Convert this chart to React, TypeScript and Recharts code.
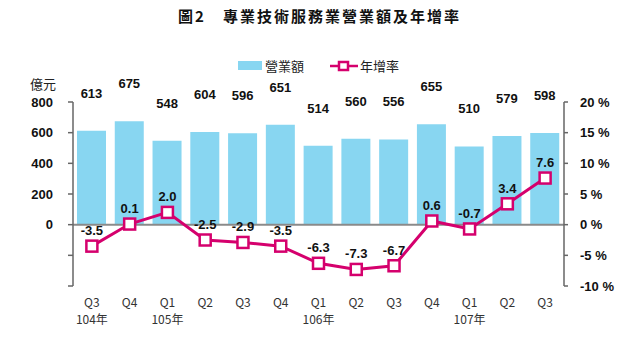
import React from 'react'
import { ComposedChart, Bar, Line, XAxis, YAxis, ReferenceLine, LabelList } from 'recharts'

const quarters = ['Q3', 'Q4', 'Q1', 'Q2', 'Q3', 'Q4', 'Q1', 'Q2', 'Q3', 'Q4', 'Q1', 'Q2', 'Q3']
const years = ['104年', '', '105年', '', '', '', '106年', '', '', '', '107年', '', '']
const revenue = [613, 675, 548, 604, 596, 651, 514, 560, 556, 655, 510, 579, 598]
const growth = [-3.5, 0.1, 2.0, -2.5, -2.9, -3.5, -6.3, -7.3, -6.7, 0.6, -0.7, 3.4, 7.6]

const leftTicks = [-400, -200, 0, 200, 400, 600, 800]
const rightTicks = [-10, -5, 0, 5, 10, 15, 20]

const data = quarters.map((q, i) => ({
  key: i,
  q,
  year: years[i],
  revenue: revenue[i],
  growth: growth[i],
}))

const BAR = '#88d6f1'
const LINE = '#d5006d'
const NUM_FONT = '"Liberation Sans", Arial, sans-serif'
const CJK = '"Noto Sans CJK TC", "Noto Sans", sans-serif'

const XTick = (props: any) => {
  const { x, y, payload } = props
  const d = data[payload.value]
  return (
    <g>
      <text x={x} y={y + 13} textAnchor="middle" fontSize={12} fill="#333" fontFamily={CJK}>
        {d.q}
      </text>
      {d.year && (
        <text x={x} y={y + 30} textAnchor="middle" fontSize={12} fill="#333" fontFamily={CJK}>
          {d.year}
        </text>
      )}
    </g>
  )
}

const BarLabel = (props: any) => {
  const { x, y, width, value } = props
  return (
    <text x={x + width / 2} y={y - 33} textAnchor="middle" fontSize={13} fontWeight="bold" fill="#111" fontFamily={NUM_FONT}>
      {value}
    </text>
  )
}

const LineLabel = (props: any) => {
  const { x, y, value } = props
  return (
    <text x={x} y={y - 11} textAnchor="middle" fontSize={13} fontWeight="bold" fill="#111" fontFamily={NUM_FONT}>
      {Number(value).toFixed(1)}
    </text>
  )
}

const Square = (props: any) => {
  const { cx, cy } = props
  return <rect x={cx - 5.5} y={cy - 5.5} width={11} height={11} fill="#fff" stroke={LINE} strokeWidth={2.5} />
}

export default function App() {
  return (
    <div style={{ position: 'absolute', left: 0, top: 0, width: 639, height: 349, background: '#fff' }}>
      <div style={{ position: 'absolute', top: 5, width: 639, textAlign: 'center', fontFamily: CJK, fontSize: 15, fontWeight: 'bold', letterSpacing: 2, color: '#111' }}>
        圖2　專業技術服務業營業額及年增率
      </div>
      <div style={{ position: 'absolute', top: 56, left: 238, display: 'flex', alignItems: 'center', fontFamily: CJK, fontSize: 13, color: '#222' }}>
        <span style={{ display: 'inline-block', width: 24, height: 9, background: BAR, marginRight: 3 }} />
        <span>營業額</span>
        <svg width={28} height={14} style={{ marginLeft: 26, marginRight: 2 }}>
          <line x1={0} y1={7} x2={28} y2={7} stroke={LINE} strokeWidth={2.5} />
          <rect x={9} y={3} width={9} height={8} fill="#fff" stroke={LINE} strokeWidth={2.5} />
        </svg>
        <span>年增率</span>
      </div>
      <div style={{ position: 'absolute', top: 74, left: 30, fontFamily: CJK, fontSize: 13, color: '#222' }}>億元</div>
      <ComposedChart
        width={639}
        height={349}
        data={data}
        margin={{ top: 102, right: 0, left: 0, bottom: 0 }}
      >
        <XAxis dataKey="key" axisLine={false} tickLine={false} height={63} tick={<XTick />} interval={0} />
        <YAxis
          yAxisId="left"
          width={73}
          domain={[-400, 800]}
          ticks={leftTicks}
          tickFormatter={(v: number) => (v < 0 ? '' : String(v))}
          tick={{ fontSize: 13, fontWeight: 'bold', fill: '#111', fontFamily: NUM_FONT }}
          axisLine={{ stroke: '#666', strokeWidth: 1.5 }}
          tickLine={{ stroke: '#666', strokeWidth: 1.5 }}
          tickSize={5}
          tickMargin={15}
          interval={0}
        />
        <YAxis
          yAxisId="right"
          orientation="right"
          width={75}
          domain={[-10, 20]}
          ticks={rightTicks}
          tickFormatter={(v: number) => `${v} %`}
          tick={{ fontSize: 13, fontWeight: 'bold', fill: '#111', fontFamily: NUM_FONT, textAnchor: 'start' }}
          axisLine={{ stroke: '#666', strokeWidth: 1.5 }}
          tickLine={{ stroke: '#666', strokeWidth: 1.5 }}
          tickSize={4}
          tickMargin={12}
          interval={0}
        />
        <Bar yAxisId="left" dataKey="revenue" fill={BAR} barSize={29} isAnimationActive={false}>
          <LabelList dataKey="revenue" content={<BarLabel />} />
        </Bar>
        <ReferenceLine yAxisId="left" y={0} stroke="#8a8a8a" strokeWidth={2} />
        <Line
          yAxisId="right"
          dataKey="growth"
          stroke={LINE}
          strokeWidth={3}
          dot={<Square />}
          isAnimationActive={false}
        >
          <LabelList dataKey="growth" content={<LineLabel />} />
        </Line>
      </ComposedChart>
    </div>
  )
}
